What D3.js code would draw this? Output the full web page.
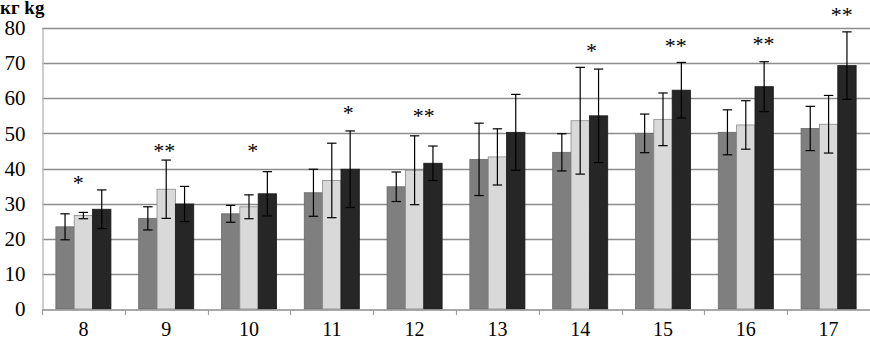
<!DOCTYPE html>
<html>
<head>
<meta charset="utf-8">
<script src="https://cdn.jsdelivr.net/npm/d3@7"></script>
</head>
<body style="margin:0">
<svg id="chart" width="870" height="341"></svg>
<script>
// ages on the x axis
const ages = ['8', '9', '10', '11', '12', '13', '14', '15', '16', '17'];

// mean values for the three groups
const meanA = [23.4, 25.8, 27.1, 33.1, 34.8, 42.6, 44.6, 50.0, 50.3, 51.4];
const meanB = [26.6, 34.1, 29.1, 36.6, 39.5, 43.3, 53.6, 54.0, 52.4, 52.6];
const meanC = [28.4, 29.9, 32.8, 39.8, 41.5, 50.3, 55.0, 62.3, 63.3, 69.3];

// standard deviations (error bars)
const sdA = [3.7, 3.3, 2.4, 6.7, 4.2, 10.3, 5.3, 5.5, 6.4, 6.3];
const sdB = [0.9, 8.3, 3.4, 10.6, 9.8, 8.0, 15.2, 7.5, 6.9, 8.2];
const sdC = [5.5, 5.0, 6.3, 10.9, 4.9, 10.8, 13.3, 7.9, 7.1, 9.6];

// significance marks: age, label, height (kg), bar slot it sits over
const starAge = ['8', '9', '10', '11', '12', '14', '15', '16', '17'];
const starText = ['*', '**', '*', '*', '**', '*', '**', '**', '**'];
const starValue = [37.0, 46.2, 46.2, 56.9, 56.2, 74.7, 76.1, 76.6, 84.8];
const starSlot = [0.72, 0.9, 1.21, 1.9, 1.5, 1.61, 1.69, 1.96, 1.72];

const yTicks = [0, 10, 20, 30, 40, 50, 60, 70, 80];

const series = [
    {mean: meanA, sd: sdA, fill: '#7f7f7f', stroke: '#6a6a6a'},
    {mean: meanB, sd: sdB, fill: '#d9d9d9', stroke: '#8a8a8a'},
    {mean: meanC, sd: sdC, fill: '#262626', stroke: '#1a1a1a'}
];

const fontSerif = 'Liberation Serif';
const W = 870, H = 341;
const margin = {top: 28, right: 0, bottom: 32, left: 42};

const svg = d3.select('#chart');

const x = d3.scaleBand()
    .domain(ages)
    .range([margin.left, W - margin.right])
    .paddingInner(0)
    .paddingOuter(0);

const y = d3.scaleLinear()
    .domain([0, 80])
    .range([H - margin.bottom, margin.top]);

const groupWidth = x.bandwidth() * 0.665;
const barWidth = groupWidth / 3;
const groupLeft = a => x(a) + (x.bandwidth() - groupWidth) / 2;

// gridlines
svg.append('g')
    .selectAll('line')
    .data(yTicks.filter(d => d > 0))
    .join('line')
    .attr('x1', margin.left)
    .attr('x2', W - margin.right)
    .attr('y1', d => Math.round(y(d)) + 0.5)
    .attr('y2', d => Math.round(y(d)) + 0.5)
    .attr('stroke', '#8c8c8c')
    .attr('stroke-width', 1.3);

// y axis
const yAxis = svg.append('g')
    .attr('transform', `translate(${margin.left + 0.5},0)`)
    .call(d3.axisLeft(y).tickValues(yTicks).tickSize(0).tickPadding(17));
yAxis.select('.domain').attr('stroke', '#bdbdbd').attr('stroke-width', 1.5);
yAxis.selectAll('text')
    .attr('font-family', fontSerif)
    .attr('font-size', 21)
    .attr('fill', '#000');

// bars
series.forEach((s, si) => {
    svg.append('g')
        .selectAll('rect')
        .data(ages)
        .join('rect')
        .attr('x', (a, i) => groupLeft(a) + si * barWidth)
        .attr('y', (a, i) => y(s.mean[i]))
        .attr('width', barWidth)
        .attr('height', (a, i) => y(0) - y(s.mean[i]))
        .attr('fill', s.fill)
        .attr('stroke', s.stroke)
        .attr('stroke-width', 0.8);
});

// x axis
const xAxis = svg.append('g')
    .attr('transform', `translate(0,${Math.round(y(0)) + 0.5})`)
    .call(d3.axisBottom(x).tickSize(0).tickPadding(12));
xAxis.select('.domain').attr('stroke', '#8c8c8c').attr('stroke-width', 1.5);
xAxis.selectAll('text')
    .attr('font-family', fontSerif)
    .attr('font-size', 20)
    .attr('fill', '#000');

// tick marks between categories
svg.append('g')
    .selectAll('line')
    .data(ages)
    .join('line')
    .attr('x1', a => Math.round(x(a)) + 0.5)
    .attr('x2', a => Math.round(x(a)) + 0.5)
    .attr('y1', y(0))
    .attr('y2', y(0) + 6)
    .attr('stroke', '#a0a0a0')
    .attr('stroke-width', 1.2);

// error bars
const capHalf = 4.7;
series.forEach((s, si) => {
    const g = svg.append('g')
        .selectAll('g')
        .data(ages)
        .join('g')
        .attr('stroke', '#000')
        .attr('stroke-width', 1.2);
    const cx = a => groupLeft(a) + (si + 0.5) * barWidth;
    g.append('line')
        .attr('x1', cx).attr('x2', cx)
        .attr('y1', (a, i) => y(s.mean[i] + s.sd[i]))
        .attr('y2', (a, i) => y(s.mean[i] - s.sd[i]));
    g.append('line')
        .attr('x1', a => cx(a) - capHalf).attr('x2', a => cx(a) + capHalf)
        .attr('y1', (a, i) => y(s.mean[i] + s.sd[i]))
        .attr('y2', (a, i) => y(s.mean[i] + s.sd[i]));
    g.append('line')
        .attr('x1', a => cx(a) - capHalf).attr('x2', a => cx(a) + capHalf)
        .attr('y1', (a, i) => y(s.mean[i] - s.sd[i]))
        .attr('y2', (a, i) => y(s.mean[i] - s.sd[i]));
});

// significance stars
svg.append('g')
    .selectAll('text')
    .data(starAge)
    .join('text')
    .attr('x', (a, i) => groupLeft(a) + (starSlot[i] + 0.5) * barWidth)
    .attr('y', (a, i) => y(starValue[i]))
    .attr('dy', '0.5em')
    .attr('text-anchor', 'middle')
    .attr('font-family', fontSerif)
    .attr('font-size', 22)
    .attr('fill', '#000')
    .text((a, i) => starText[i]);

// unit label
svg.append('text')
    .attr('x', 0)
    .attr('y', 14)
    .attr('font-family', fontSerif)
    .attr('font-size', 19)
    .attr('font-weight', 'bold')
    .attr('fill', '#000')
    .text('кг kg');
</script>
</body>
</html>
